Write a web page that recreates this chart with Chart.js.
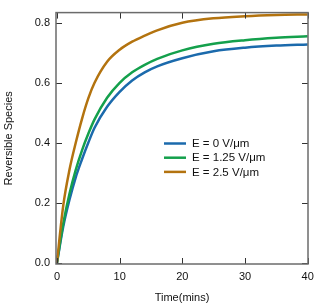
<!DOCTYPE html>
<html>
<head>
<meta charset="utf-8">
<script src="https://cdn.jsdelivr.net/npm/chart.js@4/dist/chart.umd.min.js"></script>
<style>
html,body{margin:0;padding:0;background:#fff;}
#wrap{width:331px;height:306px;position:relative;}
</style>
</head>
<body>
<div id="wrap"><canvas id="c" width="331" height="306"></canvas></div>
<script>
// ---- data ----
const times = [0, 1, 2, 3, 4, 5, 6, 8, 10, 12, 14, 16, 20, 25, 30, 35, 40];
const seriesE0   = [0, 0.12, 0.21, 0.285, 0.345, 0.40, 0.45, 0.52, 0.57, 0.608, 0.635, 0.655, 0.682, 0.705, 0.717, 0.724, 0.728];
const seriesE125 = [0, 0.13, 0.23, 0.31, 0.375, 0.43, 0.478, 0.55, 0.60, 0.635, 0.66, 0.68, 0.708, 0.73, 0.742, 0.75, 0.755];
const seriesE25  = [0, 0.19, 0.31, 0.40, 0.48, 0.548, 0.60, 0.67, 0.71, 0.737, 0.757, 0.775, 0.80, 0.815, 0.822, 0.826, 0.828];
const seriesLabels = ["E = 0 V/\u03BCm", "E = 1.25 V/\u03BCm", "E = 2.5 V/\u03BCm"];
const xTicks = [0, 10, 20, 30, 40];
const yTicks = [0, 0.2, 0.4, 0.6, 0.8];
const xTitle = "Time(mins)";
const yTitle = "Reversible Species";

const colors = ["#1b6aac", "#14a04c", "#b3730f"];
const allSeries = [seriesE0, seriesE125, seriesE25];

const datasets = allSeries.map((s, i) => ({
  label: seriesLabels[i],
  data: times.map((t, k) => ({x: t, y: s[k]})),
  borderColor: colors[i],
  backgroundColor: colors[i],
  borderWidth: 2.5,
  pointRadius: 0,
  fill: false,
  cubicInterpolationMode: 'monotone',
  order: 2 - i
}));

const FONT = "'Liberation Sans', Arial, sans-serif";

const framePlugin = {
  id: 'frame',
  afterDatasetsDraw(chart) {
    const {ctx, chartArea: a, scales: {x, y}} = chart;
    ctx.save();
    ctx.strokeStyle = '#333';
    ctx.lineWidth = 1;
    const tl = 6;
    ctx.beginPath();
    xTicks.forEach(v => {
      const px = Math.round(x.getPixelForValue(v)) + 0.5;
      ctx.moveTo(px, a.bottom); ctx.lineTo(px, a.bottom - tl);
      ctx.moveTo(px, a.top); ctx.lineTo(px, a.top + tl);
    });
    yTicks.forEach(v => {
      const py = Math.round(y.getPixelForValue(v)) + 0.5;
      ctx.moveTo(a.left, py); ctx.lineTo(a.left + tl, py);
      ctx.moveTo(a.right, py); ctx.lineTo(a.right - tl, py);
    });
    ctx.stroke();
    ctx.strokeStyle = '#6b6b6b';
    ctx.lineWidth = 1.5;
    ctx.strokeRect(a.left, a.top, a.right - a.left, a.bottom - a.top);
    // legend inside plot
    ctx.font = "11.5px " + FONT;
    ctx.textBaseline = 'middle';
    ctx.textAlign = 'left';
    const lx0 = 164, lx1 = 186, ly0 = 143.5, dy = 14.2;
    chart.data.datasets.forEach((d, i) => {
      const yy = ly0 + i * dy;
      ctx.strokeStyle = d.borderColor;
      ctx.lineWidth = 2.5;
      ctx.beginPath(); ctx.moveTo(lx0, yy); ctx.lineTo(lx1, yy); ctx.stroke();
      ctx.fillStyle = '#111';
      ctx.fillText(d.label, 192, yy + 0.5);
    });
    ctx.restore();
  }
};

new Chart(document.getElementById('c'), {
  type: 'line',
  data: {datasets},
  options: {
    responsive: false,
    animation: false,
    devicePixelRatio: 1,
    layout: {padding: {top: 12, right: 23, left: 0, bottom: 0}},
    plugins: {legend: {display: false}, tooltip: {enabled: false}},
    scales: {
      x: {
        type: 'linear',
        min: -0.15, max: 40.05,
        grid: {display: false, drawTicks: false},
        border: {display: false},
        afterBuildTicks: s => { s.ticks = xTicks.map(v => ({value: v})); },
        afterFit: s => { s.height = 42; },
        ticks: {padding: 6, color: '#111', font: {family: FONT, size: 11}, maxRotation: 0,
                callback: v => String(v)},
        title: {display: true, text: xTitle, color: '#111', font: {family: FONT, size: 11},
                padding: {top: 0, bottom: 1}}
      },
      y: {
        type: 'linear',
        min: -0.004, max: 0.834,
        grid: {display: false, drawTicks: false},
        border: {display: false},
        afterBuildTicks: s => { s.ticks = yTicks.map(v => ({value: v})); },
        afterFit: s => { s.width = 56; },
        ticks: {padding: 6, color: '#111', font: {family: FONT, size: 11},
                callback: v => Number(v).toFixed(1)},
        title: {display: true, text: yTitle, color: '#111', font: {family: FONT, size: 11},
                padding: {top: 2, bottom: 0}}
      }
    }
  },
  plugins: [framePlugin]
});
</script>
</body>
</html>
